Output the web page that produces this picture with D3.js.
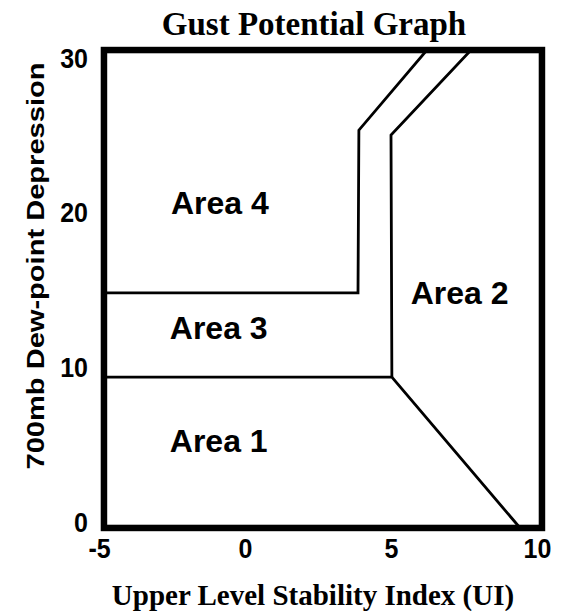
<!DOCTYPE html>
<html>
<head>
<meta charset="utf-8">
<script src="https://cdn.jsdelivr.net/npm/d3@7"></script>
<style>
  html, body { margin: 0; padding: 0; background: #fff; }
  svg { display: block; }
</style>
</head>
<body>
<svg id="chart" width="563" height="611"></svg>
<script>
// ---- data ----
const xTicks = [-5, 0, 5, 10];
const yTicks = [0, 10, 20, 30];
const xFrame = [-4.83, 10.17];
const yFrame = [-0.45, 30.45];
// Area 1 / Area 3 boundary, continuing to the lower-right diagonal
const boundary13 = [
  {x: -4.83, y: 9.3}, {x: 5.03, y: 9.3}, {x: 9.42, y: -0.45}
];
// Area 2 left boundary
const boundary2 = [
  {x: 5.03, y: 9.3}, {x: 5.0, y: 24.95}, {x: 7.74, y: 30.45}
];
// Area 3 / Area 4 boundary
const boundary34 = [
  {x: -4.83, y: 14.75}, {x: 3.87, y: 14.75}, {x: 3.9, y: 25.27}, {x: 6.23, y: 30.45}
];
const areaNames = ["Area 1", "Area 2", "Area 3", "Area 4"];
const areaX = [-0.9, 7.35, -0.9, -0.86];
const areaY = [5.2, 14.8, 12.5, 20.6];
const title = "Gust Potential Graph";
const xTitle = "Upper Level Stability Index (UI)";
const yTitle = "700mb Dew-point Depression";

// ---- scales ----
const svg = d3.select("#chart");
const x = d3.scaleLinear().domain([-5, 10]).range([99, 537]);
const y = d3.scaleLinear().domain([0, 30]).range([521, 57]);

const sans = "'Liberation Sans', Arial, sans-serif";
const serif = "'Liberation Serif', 'Times New Roman', serif";

// clip
svg.append("defs").append("clipPath").attr("id", "plotclip")
  .append("rect")
  .attr("x", x(xFrame[0])).attr("y", y(yFrame[1]))
  .attr("width", x(xFrame[1]) - x(xFrame[0]))
  .attr("height", y(yFrame[0]) - y(yFrame[1]));

// boundary lines
const line = d3.line().x(d => x(d.x)).y(d => y(d.y));
const g = svg.append("g").attr("clip-path", "url(#plotclip)");
[boundary13, boundary2, boundary34].forEach(b => {
  g.append("path").attr("d", line(b))
    .attr("fill", "none").attr("stroke", "#000")
    .attr("stroke-width", 2.8).attr("stroke-linejoin", "miter");
});

// frame
svg.append("rect")
  .attr("x", x(xFrame[0])).attr("y", y(yFrame[1]))
  .attr("width", x(xFrame[1]) - x(xFrame[0]))
  .attr("height", y(yFrame[0]) - y(yFrame[1]))
  .attr("fill", "none").attr("stroke", "#000").attr("stroke-width", 6.5);

// axes (labels only)
const xAxis = d3.axisBottom(x).tickValues(xTicks).tickSize(0).tickPadding(0)
  .tickFormat(d => String(d));
const gx = svg.append("g").attr("transform", "translate(0,558)").call(xAxis);
gx.select(".domain").remove();
gx.selectAll(".tick text")
  .attr("y", 0).attr("dy", 0)
  .attr("transform", "scale(1,1.12)")
  .style("font-family", sans).style("font-weight", "bold")
  .style("font-size", "25px").attr("fill", "#000");

const yAxis = d3.axisLeft(y).tickValues(yTicks).tickSize(0).tickPadding(0)
  .tickFormat(d => String(d));
const gy = svg.append("g").attr("transform", "translate(88,0)").call(yAxis);
gy.select(".domain").remove();
gy.selectAll(".tick text")
  .attr("x", 0).attr("dy", "0.36em")
  .attr("transform", "scale(1,1.12)")
  .style("font-family", sans).style("font-weight", "bold")
  .style("font-size", "25px").attr("fill", "#000");

// area labels
svg.selectAll("text.area").data(areaNames).enter().append("text")
  .attr("class", "area")
  .attr("x", (d, i) => x(areaX[i]))
  .attr("y", (d, i) => y(areaY[i]))
  .attr("dy", "0.36em")
  .attr("text-anchor", "middle")
  .style("font-family", sans).style("font-weight", "bold")
  .style("font-size", "32px")
  .text(d => d);

// titles
svg.append("text").attr("x", 314).attr("y", 35)
  .attr("text-anchor", "middle")
  .style("font-family", serif).style("font-weight", "bold")
  .style("font-size", "33px").text(title);

svg.append("text").attr("x", 313).attr("y", 605)
  .attr("text-anchor", "middle")
  .style("font-family", serif).style("font-weight", "bold")
  .style("font-size", "29px").text(xTitle);

svg.append("text")
  .attr("transform", "translate(44,266) rotate(-90)")
  .attr("text-anchor", "middle")
  .attr("textLength", 407).attr("lengthAdjust", "spacingAndGlyphs")
  .style("font-family", sans).style("font-weight", "bold")
  .style("font-size", "24px").text(yTitle);
</script>
</body>
</html>
